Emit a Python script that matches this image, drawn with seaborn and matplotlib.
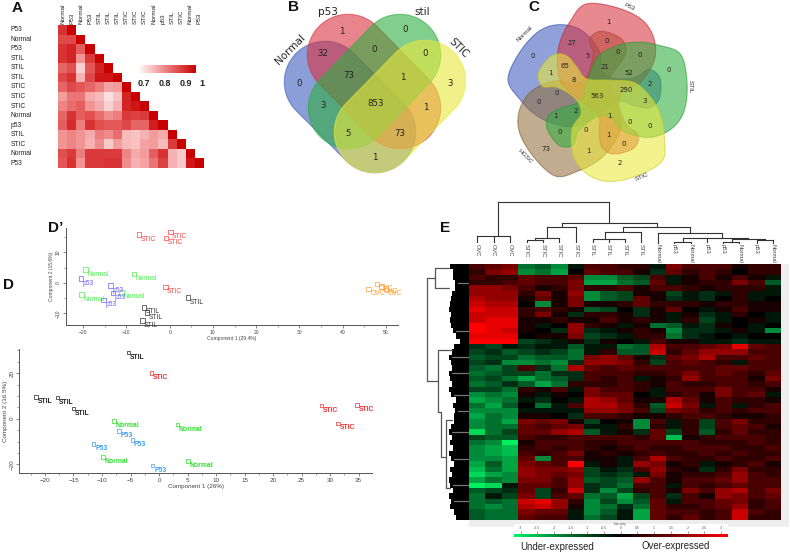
import numpy as np
import pandas as pd
import matplotlib
matplotlib.use('Agg')
import matplotlib.pyplot as plt
import seaborn as sns
from matplotlib.colors import LinearSegmentedColormap
from matplotlib.patches import Polygon, Rectangle
from matplotlib.ticker import MultipleLocator

sns.set_theme(style='white')
plt.rcParams['font.family'] = ['Liberation Sans', 'DejaVu Sans']

W, H = 790, 554

# A: correlation triangle
corr_cols = ['Normal', 'P53', 'Normal', 'P53', 'STIL', 'STIL', 'STIL', 'STIC', 'STIC', 'STIC',
             'Normal', 'p53', 'STIL', 'STIC', 'Normal', 'P53']
corr_rows = ['P53', 'Normal', 'P53', 'STIL', 'STIL', 'STIL', 'STIC', 'STIC', 'STIC', 'Normal',
             'p53', 'STIL', 'STIC', 'Normal', 'P53']
corr_vals = [
    [.93, 1],
    [.90, .90, 1],
    [.93, .95, .87, 1],
    [.93, .95, .80, .92, 1],
    [.86, .89, .72, .88, .95, 1],
    [.90, .93, .76, .90, .97, .97, 1],
    [.86, .90, .88, .86, .83, .78, .79, 1],
    [.79, .84, .84, .77, .75, .70, .74, .95, 1],
    [.82, .85, .87, .80, .77, .72, .76, .95, .97, 1],
    [.86, .93, .87, .89, .85, .81, .83, .92, .91, .92, 1],
    [.87, .94, .83, .93, .89, .88, .88, .90, .86, .86, .96, 1],
    [.80, .82, .80, .77, .83, .81, .85, .75, .74, .76, .79, .77, 1],
    [.80, .82, .80, .76, .81, .73, .79, .75, .74, .78, .79, .75, .92, 1],
    [.89, .92, .83, .92, .92, .92, .92, .82, .77, .79, .87, .93, .76, .73, 1],
    [.88, .93, .80, .92, .92, .93, .93, .81, .76, .78, .84, .91, .76, .73, .97, 1],
]
corr_ticks = ['0.7', '0.8', '0.9', '1']

# B: four set venn
venn4_names = ['Normal', 'p53', 'stil', 'STIC']
venn4_counts = [0, 1, 0, 3, 32, 0, 0, 73, 1, 3, 853, 1, 5, 73, 1]

# C: five set venn
venn5_names = ['P53', 'STIL', 'STIC', 'HGSC', 'Normal']
venn5_counts = [1, 0, 27, 0, 0, 0, 5, 65, 21, 52, 0, 1, 8, 2, 0, 563, 290, 3, 0, 2, 1, 1, 0, 0, 0, 0, 1, 73, 1, 0, 2]

# D': PCA with OVC
pca1_group = ['STIC'] * 4 + ['Normal'] * 4 + ['p53'] * 4 + ['STIL'] * 4 + ['OVC'] * 4
pca1_x = [-7.1, 0.15, -0.8, -1.0, -19.5, -8.2, -20.4, -11.1, -20.5, -13.7, -13.1, -15.3,
          4.3, -6.0, -5.3, -6.3, 48.0, 49.0, 50.0, 46.0]
pca1_y = [15.9, 16.7, 14.7, -1.4, 4.4, 3.0, -3.8, -3.1, 1.4, -0.9, -3.3, -5.7,
          -4.8, -8.0, -9.7, -12.3, -0.3, -1.2, -1.8, -2.0]

# D: PCA without OVC
pca2_group = ['STIL'] * 4 + ['STIC'] * 4 + ['Normal'] * 4 + ['P53'] * 4
pca2_x = [-5.4, -21.6, -17.8, -15.0, -1.3, 28.5, 34.7, 31.4, -7.9, 3.2, -9.8, 5.1, -7.0, -4.7, -11.5, -1.1]
pca2_y = [29.1, 9.6, 9.2, 4.4, 20.0, 5.8, 6.1, -2.0, -1.0, -2.6, -16.7, -18.6, -5.3, -9.4, -11.0, -20.5]

# E: expression heatmap, read in tenths of the colour range
expr_cols = ['OVC'] * 3 + ['STIC'] * 4 + ['STIL'] * 4 + ['Normal', 'p53', 'Normal', 'p53', 'p53', 'Normal', 'p53', 'Normal']
expr_block1 = [
    [3, 4, 5, -5, -4, -6, -1, 3, 3, 2, 2, -1, 5, 3, 3, 3, 1, 2, 2],
    [2, 5, 6, -6, -5, -7, 0, 4, 3, 3, 1, -2, 4, 2, 3, 2, 0, 2, 2],
    [3, 2, 2, 4, 3, 3, 4, -6, -6, -4, -3, 3, -1, 1, 3, 1, 3, 1, -1],
    [2, 2, 3, 4, 3, 3, 5, -7, -7, -5, -4, 4, -1, 1, 2, 2, 5, 3, -4],
    [6, 6, 5, 3, 1, 2, 5, 2, 2, 3, 1, 3, 3, 2, 1, 2, 2, 2, -1],
    [6, 6, 6, 2, 5, 1, 6, -6, -4, -3, 1, 1, -3, -1, -2, -1, 2, -1, -1],
    [7, 6, 6, 1, 4, 1, 5, -6, -4, -3, 4, 1, -2, -1, -2, 0, 2, -1, 0],
    [8, 7, 7, 0, -6, 1, 5, 1, 1, 2, 4, 2, 2, 2, 1, 2, 2, 1, 1],
    [9, 8, 8, 2, 3, 2, 1, -4, -3, 0, -2, 1, 4, 0, -1, 1, 3, 1, 1],
    [8, 8, 8, 2, 5, 1, -2, 2, 2, 1, -2, 1, -1, 1, -2, -1, 2, 0, -1],
    [8, 9, 9, 1, 1, 2, 1, 1, 3, 1, 2, 1, -1, 2, -3, -1, 0, 1, -1],
    [10, 9, 9, 1, -1, 0, 6, 2, 1, -1, 1, -5, -4, -1, -2, 1, 0, -1, 0],
    [10, 9, 8, 1, 0, -2, 6, -2, -1, 1, 2, 1, -6, -2, -2, -1, 1, -1, -6],
    [9, 9, 9, 0, 1, 1, 5, -3, -2, -1, 2, 2, -5, -2, -1, 0, -1, 0, 0],
    [10, 10, 10, -3, -2, -1, 1, -2, 1, 0, -1, 3, 1, 1, -1, -1, -2, -1, -1],
]
expr_block2 = [
    [-2, -3, -1, -2, -1, -1, -4, -1, -1, -5, -4, 7, 3, 3, 4, 5, 9, 4, 3],
    [-3, -2, -4, -3, -2, -3, -5, -1, 2, -4, -4, 8, 2, 4, 6, 6, 6, 3, 3],
    [-4, -3, -3, -5, -4, -4, -5, 5, 6, 4, 1, -2, 4, 5, 7, 3, 3, 4, 3],
    [-3, -2, -6, -6, -5, -6, -2, 6, 6, 5, 2, -3, 3, 4, 3, 2, -1, 3, 3],
    [-4, -5, -3, 3, -2, -5, 7, 4, 3, 4, 3, 3, 3, 3, 3, 4, 4, 3, 3],
    [-5, -4, -3, -3, -5, -2, -2, 3, 3, 3, 2, 2, 3, 5, 3, 4, 3, 2, 4],
    [-4, -3, -5, -7, -5, -4, -2, 3, 2, 3, -1, 1, 2, 6, 3, 3, 3, 1, 5],
    [-5, -4, -2, -4, -7, -5, 2, 2, 2, 3, 2, 1, 3, 2, 2, 3, 3, 2, 3],
    [-3, -3, -5, 2, 1, 3, -1, 5, 3, 3, 2, -1, 3, 3, 3, 5, 3, 3, 1],
    [-6, -5, -6, 1, -1, 1, 0, 5, 4, 4, 0, -1, 2, 3, 1, 5, 3, 4, -1],
    [-7, -6, -5, -1, -2, 0, -1, 7, 6, 4, 1, 1, 7, 4, 1, 3, 2, 2, 1],
    [-5, -7, -4, 0, -5, -1, 3, 7, 7, 5, 2, -4, 8, 5, -1, 3, -1, 2, 3],
    [-6, -6, -6, -1, -1, -1, -1, 6, 6, 5, 3, -3, 5, 4, 2, 3, 2, 3, 3],
    [-7, -5, -6, 1, 1, 0, -2, 3, 3, 2, 1, 1, 2, 3, 3, 2, 1, 1, 2],
]
expr_block3 = [
    [-6, -5, -7, 5, 4, 5, 1, -3, 0, 1, -6, 3, -1, 2, -3, 3, 5, 2, 2],
    [-6, -5, -5, 4, 3, 4, 5, -1, -1, 2, -6, 2, -1, 2, -3, 3, 4, 3, 1],
    [-9, -5, -3, 4, 4, 6, 7, -4, -1, 1, -2, 4, -3, 2, -4, 2, 4, 2, 2],
    [-3, -4, -4, 3, 2, 2, 3, 3, 3, 3, 2, 4, -8, 1, 2, 3, 3, 3, 2],
    [-5, -6, -10, 1, 3, 3, 3, 2, 2, 3, 3, 3, 3, 3, 2, 2, 2, 3, 2],
    [-6, -7, -8, 2, 3, 2, 3, 2, 1, 2, 3, 2, 2, 3, 3, 3, 2, 2, 3],
    [-6, -7, -8, 3, 2, 3, 5, 1, 2, 1, 2, 3, 2, 2, 3, 2, 3, 2, 2],
    [-6, -6, -7, 4, -6, 3, 3, 1, 1, -1, 3, 7, 3, 2, 2, 3, 2, 2, 3],
    [-7, -4, -7, 5, 4, 3, 10, -1, 1, -1, 6, 5, 1, 2, -1, 1, 2, 3, 1],
    [-8, -5, -7, 6, 5, 5, 6, -3, -1, -2, 3, 6, 2, 1, -2, 2, 5, 2, 2],
    [-9, -7, -6, 6, 5, 4, 5, -3, -2, -3, -1, 5, 1, 2, 2, 3, 6, 3, 2],
    [-7, -5, -6, 5, 5, 3, 6, -4, -3, -4, 6, 3, 1, 3, 3, 4, 6, 3, 3],
    [-10, -9, -1, 4, 4, 3, 6, -2, -3, -5, 3, 3, -1, 3, 2, 3, 4, 3, 3],
    [-4, -3, -2, 4, -3, 2, 8, -2, -6, -3, 2, 3, 1, 5, 3, 6, 7, 3, 5],
    [-5, -1, -3, 5, -3, 3, 4, -5, -4, -7, -3, 3, -2, 3, 1, 6, 5, 3, 4],
    [-5, -4, -5, 8, 9, 6, 2, -6, -3, -6, -4, 4, -1, 3, 3, 4, 5, 2, 3],
    [-5, -6, -5, 7, 8, 6, 1, -6, -5, -2, -5, 4, 2, 2, 3, 4, 6, 2, 3],
    [-4, -5, -5, 5, 4, 4, -1, -6, -4, -1, -7, 4, 3, 3, 2, 3, 8, 3, 2],
    [-4, -5, -5, 4, 3, 3, -1, -5, -3, -1, -7, 4, 2, 4, 2, 3, 8, 2, 2],
]
expr_ticks = [-3, -2.5, -2, -1.5, -1, -0.5, 0, 0.5, 1, 1.5, 2, 2.5, 3]
# width of the black leaf band of the row tree, per heatmap row
leaf_depth = [19, 16, 16, 14, 14, 17, 18, 19, 20, 18, 19, 18, 16, 13, 9,
              15, 17, 20, 18, 17, 20, 19, 17, 20, 18, 13, 16, 14, 15,
              15, 18, 20, 17, 19, 16, 20, 18, 15, 19, 17, 20, 19, 16, 20, 18, 19, 15, 13]


def px_axes(l, t, r, b, **kw):
    return fig.add_axes([l / W, 1 - b / H, (r - l) / W, (b - t) / H], **kw)


def capsule(p0, p1, r):
    a = np.arctan2(p1[1] - p0[1], p1[0] - p0[0])
    t = np.linspace(np.pi / 2, 3 * np.pi / 2, 40) + a
    end0 = np.c_[p0[0] + r * np.cos(t), p0[1] + r * np.sin(t)]
    end1 = np.c_[p1[0] - r * np.cos(t), p1[1] - r * np.sin(t)]
    return np.vstack([end0, end1])


def closed_spline(pts, n=14):
    pts = np.asarray(pts, float)
    out = []
    for i in range(len(pts)):
        p0, p1, p2, p3 = pts[i - 1], pts[i], pts[(i + 1) % len(pts)], pts[(i + 2) % len(pts)]
        for t in np.linspace(0, 1, n, endpoint=False):
            out.append(0.5 * (2 * p1 + (p2 - p0) * t + (2 * p0 - 5 * p1 + 4 * p2 - p3) * t ** 2
                              + (3 * p1 - p0 - 3 * p2 + p3) * t ** 3))
    return np.array(out)


fig = plt.figure(figsize=(W / 100, H / 100), dpi=100)
ov = fig.add_axes([0, 0, 1, 1], zorder=0)
ov.set_xlim(0, W)
ov.set_ylim(H, 0)
ov.axis('off')
top = fig.add_axes([0, 0, 1, 1], zorder=5, facecolor='none')
top.set_xlim(0, W)
top.set_ylim(H, 0)
top.axis('off')

for s, x, y in [('A', 12, 8), ('B', 288, 7), ('C', 528, 7), ("D\u2019", 48, 228), ('D', 3, 285), ('E', 440, 228)]:
    top.text(x, y, s, fontsize=11, fontweight='bold', color='#111', ha='left', va='center')

# A
n_c = len(corr_cols)
corr = np.full((len(corr_rows), n_c), np.nan)
for i, row in enumerate(corr_vals):
    corr[i, :len(row)] = row
corr_cmap = LinearSegmentedColormap.from_list('corr', ['#ffffff', '#f5a8a8', '#e25252', '#c80000'])
ax_a = px_axes(58, 25, 204, 168)
cax_a = px_axes(138, 65, 196, 73)
sns.heatmap(corr, ax=ax_a, cmap=corr_cmap, vmin=0.66, vmax=1,
            xticklabels=corr_cols, yticklabels=corr_rows, cbar_ax=cax_a,
            cbar_kws={'orientation': 'horizontal', 'ticks': []})
ax_a.collections[0].colorbar.outline.set_visible(False)
ax_a.xaxis.tick_top()
ax_a.tick_params(axis='x', length=0, pad=1, labelsize=4.6, rotation=90, colors='#222')
ax_a.tick_params(axis='y', length=0, pad=34, labelsize=4.8, rotation=0, colors='#222')
for lab in ax_a.get_yticklabels():
    lab.set_ha('left')
for s, x in zip(corr_ticks, [144, 165, 186, 202]):
    top.text(x, 84, s, fontsize=6.5, fontweight='bold', color='#222', ha='center', va='center')

# B
venn4_colors = ['#3f5dbd', '#d9323f', '#2fae3f', '#e9e93c']
venn4_shapes = [((325, 82), (375, 132)), ((348, 55), (400, 108)), ((400, 55), (349, 108)), ((425, 81), (375, 132))]
for (p0, p1), c in zip(venn4_shapes, venn4_colors):
    ov.add_patch(Polygon(capsule(p0, p1, 40.7), closed=True, facecolor=c, alpha=0.6, edgecolor=c, lw=0.8))
venn4_pos = [(299, 83), (342, 31), (405, 30), (450, 83), (323, 54), (374, 49), (425, 53), (349, 76), (403, 77),
             (323, 106), (376, 103), (426, 107), (348, 134), (400, 134), (375, 157)]
for v, (x, y) in zip(venn4_counts, venn4_pos):
    top.text(x, y, str(v), fontsize=6.2, family='DejaVu Sans', color='#222', ha='center', va='center')
for s, x, y, rot in zip(venn4_names, [290, 328, 422, 459], [49, 12, 12, 48], [45, 0, 0, -45]):
    top.text(x, y, s, fontsize=7.5, family='DejaVu Sans', color='#222', rotation=rot, ha='center', va='center')

# C
venn5_colors = ['#d8323f', '#2fae3f', '#e9e93c', '#94703f', '#3f5dbd']
venn5_edges = ['#c0202c', '#229a30', '#cccc22', '#7d5a30', '#2c48a8']
venn5_order = [4, 3, 0, 1, 2]
petal = [(300, 65), (345, 13), (430, 20), (510, 55), (550, 110), (553, 180), (510, 248), (460, 270), (447, 315),
         (470, 375), (505, 405), (490, 445), (430, 462), (395, 440), (388, 395), (385, 345), (330, 300),
         (275, 250), (262, 180), (272, 120)]
center = np.array([385.0, 285.0])
for k in venn5_order:
    c, ec = venn5_colors[k], venn5_edges[k]
    a = np.deg2rad(72 * k)
    rot = np.array([[np.cos(a), -np.sin(a)], [np.sin(a), np.cos(a)]])
    shape = (closed_spline(petal) - center) @ rot.T + center
    shape = np.c_[470 + shape[:, 0] / 3, shape[:, 1] / 3]
    ov.add_patch(Polygon(shape, closed=True, facecolor=c, alpha=0.58, edgecolor=ec, lw=0.8))
venn5_pos = [(414, 65), (188, 168), (306, 130), (410, 124), (443, 156), (510, 165), (352, 168), (286, 198), (406, 202),
             (478, 220), (595, 209), (240, 220), (310, 240), (538, 252), (260, 279), (382, 288), (468, 270), (523, 302),
             (207, 305), (318, 333), (255, 347), (418, 349), (480, 367), (539, 378), (348, 390), (270, 396), (416, 406),
             (229, 446), (354, 452), (460, 432), (450, 490)]
for v, (x, y) in zip(venn5_counts, venn5_pos):
    top.text(470 + x / 3, y / 3, str(v), fontsize=5, family='DejaVu Sans', color='#222', ha='center', va='center')
for s, x, y, rot in zip(venn5_names, [629, 690, 642, 525, 525], [7, 87, 177, 156, 34], [-25, -90, 22, -45, 45]):
    top.text(x, y, s, fontsize=4.6, color='#333', rotation=rot, ha='center', va='center')

# D' and D
pca1_colors = {'STIC': '#ff4040', 'Normal': '#4fee4f', 'p53': '#6a5cff', 'STIL': '#333333', 'OVC': '#ffa030'}
pca2_colors = {'STIL': '#222222', 'STIC': '#f03030', 'Normal': '#2fe02f', 'P53': '#3f9ff0'}


def pca_panel(ax, xs, ys, groups, colors, size, fs, weight, xlabel, ylabel, lab_fs):
    df = pd.DataFrame({'x': xs, 'y': ys, 'group': groups})
    sns.scatterplot(data=df, x='x', y='y', hue='group', palette=colors, marker='s', s=size, linewidth=0.5,
                    legend=False, ax=ax, clip_on=False)
    for coll in ax.collections:
        coll.set_edgecolors(coll.get_facecolors())
        coll.set_facecolors('none')
    for x, y, g in zip(xs, ys, groups):
        t = ax.annotate(g, (x, y), xytext=(1.2, -0.8), textcoords='offset points', fontsize=fs, color=colors[g],
                        fontweight=weight, ha='left', va='top')
        t.set_clip_on(True)
    ax.patch.set_alpha(0)
    sns.despine(ax=ax)
    for side in ['left', 'bottom']:
        ax.spines[side].set_color('#555')
        ax.spines[side].set_linewidth(0.7)
    ax.set_xlabel(xlabel, fontsize=lab_fs, color='#444', labelpad=1)
    ax.set_ylabel(ylabel, fontsize=lab_fs, color='#444', labelpad=1)
    ax.tick_params(which='major', direction='out', length=2.5, width=0.5, color='#555', labelsize=lab_fs, labelcolor='#444', pad=1,
                   bottom=True, left=True)
    ax.tick_params(which='minor', direction='out', length=1.3, width=0.4, color='#555', bottom=True, left=True)
    for lab in ax.get_yticklabels():
        lab.set_rotation(90)
        lab.set_va('center')


ax_d1 = px_axes(65.7, 228, 398, 325)
ax_d1.set_xlim(-24.05, 52.8)
ax_d1.set_ylim(-13.8, 18)
ax_d1.xaxis.set_major_locator(MultipleLocator(10))
ax_d1.xaxis.set_minor_locator(MultipleLocator(5))
ax_d1.yaxis.set_major_locator(MultipleLocator(10))
ax_d1.yaxis.set_minor_locator(MultipleLocator(5))
pca_panel(ax_d1, pca1_x, pca1_y, pca1_group, pca1_colors, 10, 4.8, 'normal',
          'Component 1 (29.4%)', 'Component 2 (15.6%)', 3.6)

ax_d2 = px_axes(19.3, 349, 372.3, 473)
ax_d2.set_xlim(-24.5, 37.4)
ax_d2.set_ylim(-23.8, 30.6)
ax_d2.xaxis.set_major_locator(MultipleLocator(5))
ax_d2.xaxis.set_minor_locator(MultipleLocator(2.5))
ax_d2.yaxis.set_major_locator(MultipleLocator(20))
ax_d2.yaxis.set_minor_locator(MultipleLocator(5))
pca_panel(ax_d2, pca2_x, pca2_y, pca2_group, pca2_colors, 6, 4.9, 'bold',
          'Component 1 (26%)', 'Component 2 (16.5%)', 4.5)

# E
expr = np.array(expr_block1 + expr_block2 + expr_block3) * 0.32
hm_l, hm_t, hm_r, hm_b = 469, 264, 781, 520
ov.add_patch(Rectangle((hm_l, hm_t), 789 - hm_l, 527 - hm_t, facecolor='#eeeeee', edgecolor='none'))
ov.add_patch(Rectangle((514, 524), 214, 10, facecolor='white', edgecolor='none'))
expr_cmap = LinearSegmentedColormap.from_list('expr', [(0, '#00f060'), (0.25, '#00702f'), (0.5, '#000000'),
                                                       (0.75, '#780000'), (1, '#ff0000')])
ax_e = px_axes(hm_l, hm_t, hm_r, hm_b)
cax_e = px_axes(514, 534, 727.6, 536.7)
sns.heatmap(expr, ax=ax_e, cmap=expr_cmap, vmin=-3.2, vmax=3.2, xticklabels=False, yticklabels=False, cbar_ax=cax_e,
            cbar_kws={'orientation': 'horizontal', 'ticks': expr_ticks})
cb = ax_e.collections[0].colorbar
cb.outline.set_visible(False)
cax_e.xaxis.tick_top()
cax_e.tick_params(axis='x', length=2.5, width=0.4, pad=0.5, labelsize=2.6, colors='#555')
cb.set_ticklabels([f'{v:g}' for v in expr_ticks])
top.text(620.5, 524.5, 'Intensity', fontsize=2.4, color='#555', ha='center', va='center')
top.text(557, 547.5, 'Under-expressed', fontsize=6.9, color='#222', ha='center', va='center')
top.text(675.5, 546, 'Over-expressed', fontsize=6.9, color='#222', ha='center', va='center')

col_w = (hm_r - hm_l) / len(expr_cols)
for i, s in enumerate(expr_cols):
    top.text(hm_l + (i + 0.5) * col_w, 244, s, fontsize=4.2, color='#444', rotation=270, ha='center', va='top')

# column tree, in the units of the zoomed crop
col_tree = [
    ((233, 36), (568, 36)), ((233, 36), (233, 135)), ((568, 36), (568, 100)),
    ((172, 137), (270, 137)), ((172, 137), (172, 155)), ((221, 137), (221, 155)), ((270, 137), (270, 155)),
    ((425, 100), (710, 100)), ((425, 100), (425, 112)), ((710, 100), (710, 112)),
    ((382, 112), (468, 112)), ((382, 112), (382, 143)), ((468, 112), (468, 155)),
    ((346, 143), (418, 143)), ((418, 143), (418, 155)), ((346, 143), (346, 150)),
    ((322, 150), (370, 150)), ((322, 150), (322, 155)), ((370, 150), (370, 155)),
    ((610, 112), (810, 112)), ((610, 112), (610, 127)), ((810, 112), (810, 130)),
    ((555, 127), (663, 127)), ((555, 127), (555, 147)), ((663, 127), (663, 155)),
    ((518, 148), (615, 148)), ((518, 148), (518, 155)), ((567, 148), (567, 155)), ((615, 148), (615, 155)),
    ((715, 130), (905, 130)), ((715, 130), (715, 160)), ((905, 130), (905, 143)),
    ((788, 143), (985, 143)), ((788, 143), (788, 153)), ((985, 143), (985, 148)), ((860, 143), (860, 157)),
    ((763, 155), (812, 155)), ((763, 155), (763, 160)), ((812, 155), (812, 160)),
    ((935, 148), (1035, 148)), ((935, 148), (935, 157)), ((1035, 148), (1035, 150)),
    ((910, 157), (958, 157)), ((910, 157), (910, 160)), ((958, 157), (958, 160)),
    ((1010, 150), (1060, 150)), ((1010, 150), (1010, 158)), ((1060, 150), (1060, 158)),
]
for (x0, y0), (x1, y1) in col_tree:
    ov.plot([420 + x0 / 3, 420 + x1 / 3], [190 + y0 / 3, 190 + y1 / 3], color='#333', lw=0.8, solid_capstyle='projecting')

# row tree
row_edges = np.linspace(hm_t, hm_b, len(leaf_depth) + 1)
depth = np.array(leaf_depth + leaf_depth[-1:], float)
ov.fill_betweenx(row_edges, hm_l - depth, hm_l, step='post', color='black', lw=0)
for r in [3, 12, 17, 20, 24, 27, 31, 36, 41, 44]:
    y = (row_edges[r] + row_edges[r + 1]) / 2
    ov.plot([hm_l - leaf_depth[r] + 3, hm_l], [y, y], color='#777', lw=0.9)
row_tree = [((427, 278), (427, 381)), ((427, 278), (435, 278)), ((435, 268), (435, 288)), ((435, 268), (449, 268)),
            ((435, 288), (449, 288)), ((427, 381), (438, 381)), ((438, 350), (438, 412)), ((438, 350), (452, 350)),
            ((438, 412), (441, 412)), ((441, 412), (441, 457)), ((441, 457), (446, 457)), ((446, 420), (446, 488)),
            ((446, 420), (452, 420)), ((446, 488), (450, 488))]
for (x0, y0), (x1, y1) in row_tree:
    ov.plot([x0, x1], [y0, y1], color='#555', lw=0.9)

fig.savefig('out.png', dpi=100)
